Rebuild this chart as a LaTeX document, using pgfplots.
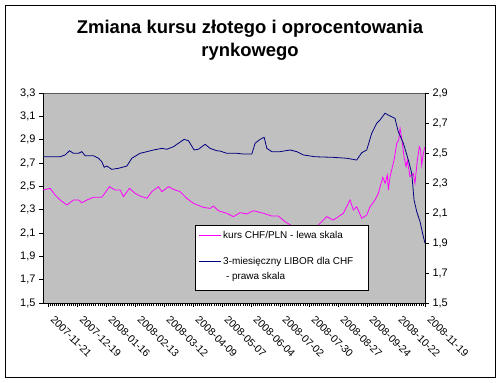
\documentclass[border=0pt]{standalone}
\usepackage{pgfplots}
\pgfplotsset{compat=1.18}
\usepackage{fontspec}
\setmainfont{Liberation Sans}
\definecolor{plotgray}{RGB}{192,192,192}
\definecolor{pinkline}{RGB}{255,0,255}
\definecolor{navyline}{RGB}{0,0,128}
\begin{document}
\begin{tikzpicture}[x=1bp,y=1bp]
\useasboundingbox (0,0) rectangle (501,382);
\fill[white] (0,0) rectangle (501,382);
\draw[black, line width=0.9bp] (5,5) rectangle (495,377);
\node[align=center, font=\fontsize{18.5}{23}\selectfont\bfseries] at (250,342) {Zmiana kursu złotego i oprocentowania\\rynkowego};
\begin{axis}[
  at={(43bp,79bp)}, anchor=south west, scale only axis, width=382bp, height=210bp,
  xmin=-5, xmax=364, ymin=1.5, ymax=3.3,
  axis x line*=bottom, axis y line*=left,
  axis background/.style={fill=plotgray, draw=gray!70!black},
  axis line style={black, line width=0.8bp, -},
  tick style={black, line width=0.6bp},
  tick align=outside, major tick length=4bp, minor tick length=3bp,
  xtick={0,28,...,364},
  minor x tick num=13,
  xticklabels={2007-11-21,2007-12-19,2008-01-16,2008-02-13,2008-03-12,2008-04-09,2008-05-07,2008-06-04,2008-07-02,2008-07-30,2008-08-27,2008-09-24,2008-10-22,2008-11-19},
  xticklabel style={xshift=7bp, yshift=-3bp, rotate=-45, anchor=north west, font=\fontsize{10.5}{12}\selectfont},
  ytick={1.5,1.7,1.9,2.1,2.3,2.5,2.7,2.9,3.1,3.3},
  yticklabel style={font=\fontsize{11}{12}\selectfont},
  /pgf/number format/.cd, use comma, fixed, fixed zerofill, precision=1, assume math mode=true
]
\addplot[pinkline, line width=0.8bp] coordinates {
(-5,2.468)(1.9,2.483)(6.8,2.425)(11.6,2.383)(18.1,2.34)(24.4,2.383)(29.3,2.383)(32.5,2.359)(37.4,2.383)(43.7,2.406)(51.8,2.406)(59.2,2.497)(64.7,2.468)(69.5,2.468)(72.7,2.411)(78.5,2.483)(84,2.44)(88.8,2.417)(95.3,2.397)(100.1,2.454)(106.5,2.497)(109.8,2.454)(116.2,2.497)(121,2.474)(127.4,2.454)(133.9,2.397)(140.3,2.354)(149.9,2.32)(156.4,2.311)(159.6,2.331)(164.4,2.291)(172.5,2.269)(178.9,2.24)(185.4,2.274)(191.8,2.263)(198.2,2.291)(207.9,2.269)(216,2.245)(222.4,2.245)(228.8,2.197)(236.8,2.154)(243.3,2.10)(250,2.08)(259.4,2.154)(269.1,2.24)(275.5,2.211)(285.1,2.269)(291.6,2.383)(294.8,2.297)(298,2.325)(302.9,2.226)(307.7,2.254)(310.9,2.325)(315.7,2.383)(318.9,2.44)(323.2,2.577)(325.4,2.526)(327.6,2.597)(328.6,2.468)(330.2,2.582)(334.1,2.725)(336.7,2.868)(338.6,2.897)(339.9,2.997)(341.5,2.911)(343.7,2.754)(345.7,2.668)(346.9,2.725)(349.5,2.582)(352.7,2.611)(354.3,2.526)(356.6,2.725)(358.5,2.839)(359.8,2.811)(360.8,2.683)(362.4,2.783)(364,2.839)
};
\end{axis}
\begin{axis}[
  at={(43bp,79bp)}, anchor=south west, scale only axis, width=382bp, height=210bp,
  xmin=-5, xmax=364, ymin=1.5, ymax=2.9,
  hide x axis, axis y line*=right,
  axis line style={black, line width=0.8bp, -},
  tick style={black, line width=0.6bp},
  tick align=outside, major tick length=4bp,
  ytick={1.5,1.7,1.9,2.1,2.3,2.5,2.7,2.9},
  yticklabel style={font=\fontsize{11}{12}\selectfont},
  legend style={at={(0.398,0.371)}, anchor=north west, draw=black, fill=white, line width=0.8bp,
    font=\fontsize{10}{15}\selectfont, row sep=11bp, inner xsep=3bp, inner ysep=4bp,
    nodes={text depth=}},
  legend cell align=left,
  legend image code/.code={\draw[#1] (0bp,0bp) -- (22bp,0bp);},
  /pgf/number format/.cd, use comma, fixed, fixed zerofill, precision=1, assume math mode=true
]
\addlegendimage{pinkline, line width=0.8bp}
\addlegendentry{kurs CHF/PLN - lewa skala}
\addplot[navyline, line width=0.8bp, legend image post style={yshift=8bp}] coordinates {
(-5,2.475)(11.6,2.475)(16.4,2.487)(20.6,2.515)(24.4,2.498)(29.3,2.498)(32.5,2.509)(35.7,2.482)(43.7,2.482)(48.6,2.465)(51.8,2.442)(54.1,2.405)(56.6,2.413)(61.5,2.391)(67.9,2.398)(76,2.413)(80.8,2.465)(88.8,2.498)(95.3,2.509)(101.7,2.52)(109.8,2.531)(114.6,2.525)(121,2.542)(125.8,2.565)(131.3,2.591)(135.5,2.582)(141,2.52)(145.1,2.525)(151.6,2.558)(156.4,2.531)(162.9,2.515)(166.1,2.513)(172.5,2.498)(182.2,2.498)(188.6,2.493)(196.7,2.493)(199.9,2.565)(204.7,2.591)(208.6,2.605)(211.2,2.531)(216,2.509)(224,2.509)(233.7,2.52)(240.1,2.509)(246.5,2.487)(257.8,2.475)(275.5,2.471)(288.4,2.465)(298,2.453)(302.9,2.502)(307.7,2.52)(312.5,2.631)(317.4,2.698)(320.5,2.72)(325.4,2.765)(330.2,2.747)(335,2.731)(338.2,2.642)(343.1,2.565)(347.9,2.453)(351.2,2.364)(353.4,2.187)(356,2.109)(359.2,2.042)(362.4,1.942)(364,1.898)
};
\addlegendentry{\begin{tabular}[t]{@{}l@{\hspace{10bp}}}3-miesięczny LIBOR dla CHF\\\ - prawa skala\rule[-5bp]{0pt}{5bp}\end{tabular}}
\end{axis}
\end{tikzpicture}
\end{document}
